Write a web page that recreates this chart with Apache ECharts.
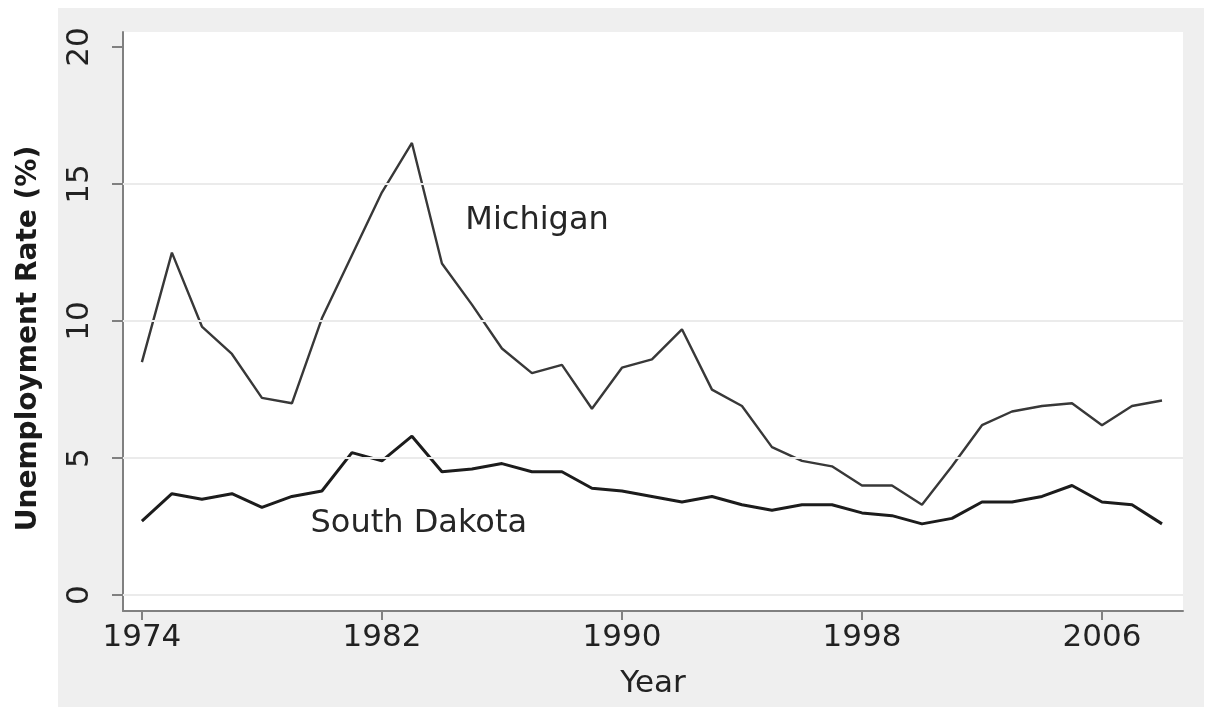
<!DOCTYPE html>
<html><head><meta charset="utf-8">
<script src="https://cdn.jsdelivr.net/npm/echarts@6/dist/echarts.min.js"></script>
<style>html,body{margin:0;padding:0;background:#fff}#c{width:1206px;height:707px}</style>
</head><body><div id="c"></div>
<script>
const years = [1974,1975,1976,1977,1978,1979,1980,1981,1982,1983,1984,1985,1986,1987,1988,1989,1990,1991,1992,1993,1994,1995,1996,1997,1998,1999,2000,2001,2002,2003,2004,2005,2006,2007,2008];
const michigan = [8.5,12.5,9.8,8.8,7.2,7.0,10.1,12.4,14.7,16.5,12.1,10.6,9.0,8.1,8.4,6.8,8.3,8.6,9.7,7.5,6.9,5.4,4.9,4.7,4.0,4.0,3.3,4.7,6.2,6.7,6.9,7.0,6.2,6.9,7.1];
const southDakota = [2.7,3.7,3.5,3.7,3.2,3.6,3.8,5.2,4.9,5.8,4.5,4.6,4.8,4.5,4.5,3.9,3.8,3.6,3.4,3.6,3.3,3.1,3.3,3.3,3.0,2.9,2.6,2.8,3.4,3.4,3.6,4.0,3.4,3.3,2.6];
const xTicks = [1974,1982,1990,1998,2006];
const yTicks = [0,5,10,15,20];
const gridValues = [0,5,10,15];
const seriesNames = ['Michigan','South Dakota'];

const FONT = 'DejaVu Sans';
const labelStyle = {show:true, position:'inside', formatter:'{b}', fontFamily:FONT, fontSize:32, color:'#262626'};
const chart = echarts.init(document.getElementById('c'), null, {renderer:'canvas'});
chart.setOption({
  backgroundColor:'#fff',
  animation:false,
  graphic:[{type:'rect', z:-100, silent:true, shape:{x:58,y:8,width:1146,height:699}, style:{fill:'#efefef'}}],
  grid:{left:123, top:32, right:23, bottom:96, show:true, backgroundColor:'#fff', borderWidth:0},
  xAxis:{
    type:'value', min:1973.37, max:2008.7,
    name:'Year', nameLocation:'middle', nameGap:57,
    nameTextStyle:{fontFamily:FONT, fontSize:31, color:'#222'},
    axisLine:{show:true, onZero:false, lineStyle:{color:'#808080', width:2}},
    axisTick:{show:true, length:9, customValues:xTicks, lineStyle:{color:'#808080', width:2}},
    axisLabel:{customValues:xTicks, margin:11, fontFamily:FONT, fontSize:31, color:'#222', formatter:v=>String(v)},
    splitLine:{show:false}
  },
  yAxis:{
    type:'value', min:-0.58, max:20.55,
    name:'Unemployment Rate (%)', nameLocation:'middle', nameRotate:90, nameGap:80,
    nameTextStyle:{fontFamily:FONT, fontSize:28, fontWeight:'bold', color:'#1a1a1a', padding:[0,34,0,0]},
    axisLine:{show:true, lineStyle:{color:'#808080', width:2}},
    axisTick:{show:true, length:11, customValues:yTicks, lineStyle:{color:'#808080', width:2}},
    axisLabel:{customValues:yTicks, rotate:90, margin:28, fontFamily:FONT, fontSize:31, color:'#222', formatter:v=>String(v)},
    splitLine:{show:false}
  },
  series:[
    {name:seriesNames[0], type:'line', data:years.map((y,i)=>[y,michigan[i]]), showSymbol:false, symbol:'none',
     lineStyle:{color:'#383838', width:2.4}, z:3,
     markLine:{silent:true, symbol:'none', label:{show:false}, lineStyle:{color:'#ebebeb', width:2, type:'solid'},
       data:gridValues.map(v=>({yAxis:v}))},
     markPoint:{silent:true, symbol:'rect', symbolSize:2, itemStyle:{color:'rgba(0,0,0,0)'},
       data:[{name:seriesNames[0], coord:[1987.17,13.65]}], label:labelStyle}
    },
    {name:seriesNames[1], type:'line', data:years.map((y,i)=>[y,southDakota[i]]), showSymbol:false, symbol:'none',
     lineStyle:{color:'#1c1c1c', width:3}, z:4,
     markPoint:{silent:true, symbol:'rect', symbolSize:2, itemStyle:{color:'rgba(0,0,0,0)'},
       data:[{name:seriesNames[1], coord:[1983.23,2.59]}], label:labelStyle}
    }
  ]
});
</script></body></html>
